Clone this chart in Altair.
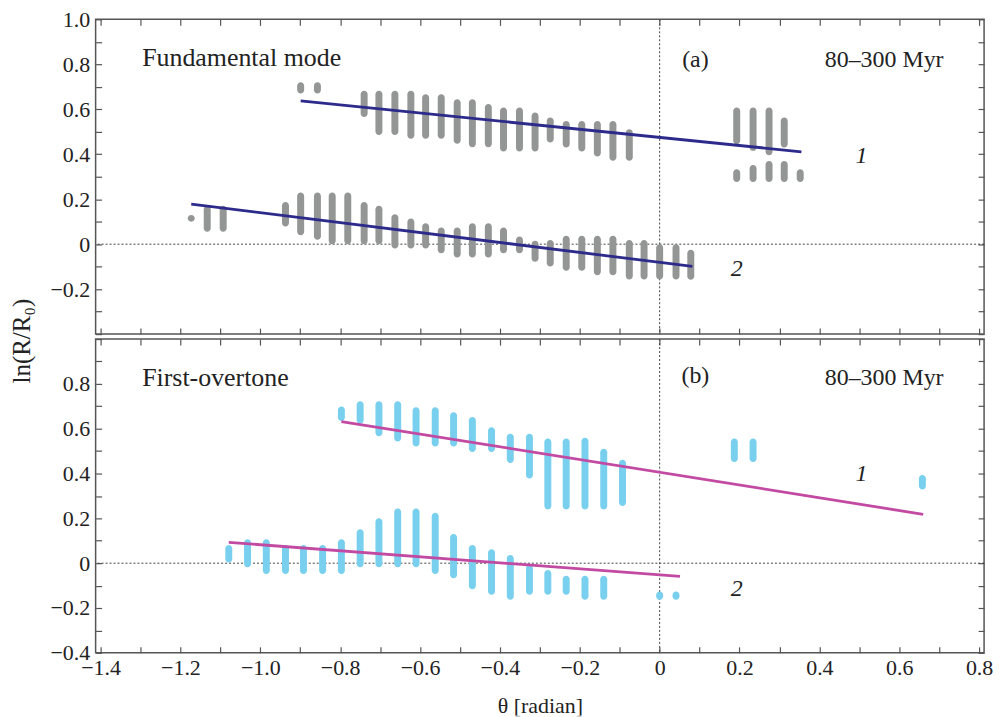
import altair as alt
import pandas as pd

FONT = "Liberation Serif"

# ---------------- tick values ----------------
x_ticks = [-1.4, -1.3, -1.2, -1.1, -1.0, -0.9, -0.8, -0.7, -0.6, -0.5, -0.4, -0.3,
           -0.2, -0.1, 0.0, 0.1, 0.2, 0.3, 0.4, 0.5, 0.6, 0.7, 0.8]
y_ticks = [-0.4, -0.3, -0.2, -0.1, 0.0, 0.1, 0.2, 0.3, 0.4, 0.5, 0.6, 0.7, 0.8, 0.9, 1.0]

# ---------------- panel (a): fundamental mode ----------------
a1_theta = [-0.899, -0.857, -0.740, -0.703, -0.663, -0.623, -0.586, -0.547, -0.507, -0.469,
            -0.429, -0.391, -0.351, -0.312, -0.274, -0.234, -0.195, -0.156, -0.117, -0.076,
            0.193, 0.234, 0.274, 0.312, 0.193, 0.234, 0.274, 0.312, 0.352]
a1_lo = [0.670, 0.670, 0.566, 0.486, 0.486, 0.469, 0.469, 0.469, 0.447, 0.431,
         0.431, 0.412, 0.412, 0.412, 0.452, 0.430, 0.412, 0.390, 0.371, 0.371,
         0.444, 0.415, 0.396, 0.430, 0.277, 0.277, 0.277, 0.277, 0.277]
a1_hi = [0.720, 0.720, 0.682, 0.682, 0.682, 0.682, 0.667, 0.667, 0.645, 0.645,
         0.623, 0.608, 0.608, 0.586, 0.563, 0.548, 0.548, 0.548, 0.548, 0.511,
         0.608, 0.608, 0.608, 0.563, 0.333, 0.352, 0.370, 0.370, 0.333]

a2_theta = [-1.173, -1.133, -1.093, -0.937, -0.899, -0.857, -0.820, -0.781, -0.740, -0.703,
            -0.663, -0.623, -0.586, -0.547, -0.507, -0.469, -0.429, -0.391, -0.351, -0.312,
            -0.274, -0.234, -0.195, -0.156, -0.117, -0.076, -0.039, 0.000, 0.041, 0.078]
a2_lo = [0.100, 0.055, 0.055, 0.079, 0.040, 0.020, 0.000, 0.000, 0.000, 0.000,
         -0.019, -0.019, -0.019, -0.040, -0.059, -0.059, -0.059, -0.040, -0.040, -0.078,
         -0.099, -0.118, -0.118, -0.138, -0.138, -0.157, -0.157, -0.157, -0.157, -0.158]
a2_hi = [0.130, 0.171, 0.171, 0.188, 0.230, 0.230, 0.230, 0.230, 0.188, 0.171,
         0.133, 0.114, 0.093, 0.074, 0.074, 0.093, 0.093, 0.074, 0.034, 0.015,
         0.019, 0.037, 0.037, 0.037, 0.037, 0.019, 0.019, 0.000, 0.000, -0.025]

a_fit_line = ["1", "1", "2", "2"]
a_fit_theta = [-0.899, 0.355, -1.173, 0.082]
a_fit_val = [0.637, 0.411, 0.178, -0.099]

# ---------------- panel (b): first overtone ----------------
b1_theta = [-0.797, -0.750, -0.703, -0.656, -0.610, -0.562, -0.516, -0.469, -0.421, -0.374,
            -0.326, -0.280, -0.234, -0.187, -0.140, -0.093, 0.187, 0.234, 0.658]
b1_lo = [0.634, 0.622, 0.566, 0.543, 0.521, 0.521, 0.521, 0.496, 0.496, 0.447,
         0.378, 0.240, 0.240, 0.240, 0.240, 0.255, 0.452, 0.452, 0.329]
b1_hi = [0.699, 0.723, 0.723, 0.723, 0.696, 0.696, 0.674, 0.652, 0.607, 0.578,
         0.578, 0.556, 0.556, 0.560, 0.511, 0.462, 0.556, 0.556, 0.393]

b2_theta = [-1.079, -1.032, -0.985, -0.937, -0.892, -0.844, -0.797, -0.750, -0.703, -0.656,
            -0.610, -0.562, -0.516, -0.469, -0.421, -0.374, -0.326, -0.280, -0.234, -0.187,
            -0.140, 0.000, 0.041]
b2_lo = [0.003, -0.018, -0.048, -0.048, -0.048, -0.048, -0.048, -0.018, -0.018, -0.018,
         -0.018, -0.048, -0.067, -0.116, -0.141, -0.163, -0.141, -0.141, -0.141, -0.163,
         -0.163, -0.163, -0.163]
b2_hi = [0.081, 0.107, 0.107, 0.081, 0.081, 0.081, 0.107, 0.151, 0.200, 0.244,
         0.244, 0.225, 0.130, 0.081, 0.062, 0.037, -0.007, -0.030, -0.056, -0.056,
         -0.056, -0.126, -0.126]

b_fit_line = ["1", "1", "2", "2"]
b_fit_theta = [-0.797, 0.660, -1.079, 0.051]
b_fit_val = [0.632, 0.218, 0.093, -0.059]

# ---------------- annotations ----------------
a_text = ["Fundamental mode", "(a)", "80–300 Myr"]
b_text = ["First-overtone", "(b)", "80–300 Myr"]
text_theta = [-1.296, 0.0895, 0.711]
text_align = ["left", "center", "right"]
text_size = [26, 24, 24]
a_text_val = [0.830, 0.820, 0.820]
b_text_val = [0.824, 0.837, 0.824]

num_labels = ["1", "2"]
num_theta = [0.5055, 0.193]
a_num_val = [0.390, -0.111]
b_num_val = [0.400, -0.116]

Y_TITLE = "ln(R/R₀)"
X_TITLE = "θ [radian]"

GRAY = "#939695"
SKY = "#78d0ee"
NAVY = "#2c2a8a"
MAGENTA = "#c24aa2"
FRAME = "#555555"
INK = "#222222"

xs = alt.Scale(domain=[-1.4, 0.8], nice=False, zero=False)
ys = alt.Scale(domain=[-0.4, 1.0], nice=False, zero=False)

LABEL_FMT = "(abs(datum.value) < 1e-9 ? '0' : format(datum.value, '.1f'))"
EVEN = "(abs(round(datum.value * 10)) % 2 == 0)"


def y_label_expr(panel):
    if panel == "a":
        cond = EVEN + " && datum.value > -0.35"
    else:
        cond = EVEN + " && datum.value < 0.95"
    return f"({cond}) ? {LABEL_FMT} : ''"


def common_axis(**kw):
    base = dict(tickSize=6, offset=-6, domain=False, grid=False, tickColor=FRAME,
                tickWidth=1.2, labelFont=FONT, labelFontSize=22, labelColor=INK,
                labelFlush=False, labelOverlap=False)
    base.update(kw)
    return alt.Axis(**base)


def make_panel(panel, th1, lo1, hi1, th2, lo2, hi2, fit_line, fit_theta, fit_val,
               texts, text_val, num_val, bar_color, line_color, bottom):
    bars = pd.DataFrame({
        "theta": th1 + th2,
        "lo": lo1 + lo2,
        "hi": hi1 + hi2,
    })
    fits = pd.DataFrame({"line": fit_line, "theta": fit_theta, "val": fit_val})

    x_bottom = common_axis(
        orient="bottom", values=x_ticks, labels=bottom, labelPadding=5,
        labelExpr=f"{EVEN} ? {LABEL_FMT} : ''",
        title=X_TITLE if bottom else None, titleFont=FONT, titleFontSize=22,
        titleFontWeight="normal", titleColor=INK, titlePadding=17)
    y_left = common_axis(orient="left", values=y_ticks, labelPadding=6,
                         labelExpr=y_label_expr(panel), title=None)
    x_top = common_axis(orient="top", values=x_ticks, labels=False, title=None)
    y_right = common_axis(orient="right", values=y_ticks, labels=False, title=None)

    bar_layer = alt.Chart(bars).mark_bar(size=7, cornerRadius=3.5, color=bar_color).encode(
        x=alt.X("theta:Q", scale=xs, axis=x_bottom),
        y=alt.Y("lo:Q", scale=ys, axis=y_left),
        y2="hi:Q",
    )
    line_layer = alt.Chart(fits).mark_line(color=line_color, strokeWidth=2.8).encode(
        x=alt.X("theta:Q", scale=xs, axis=x_top),
        y=alt.Y("val:Q", scale=ys, axis=y_right),
        detail="line:N",
    )
    zero = pd.DataFrame({"z": [0.0]})
    hrule = alt.Chart(zero).mark_rule(color="#444", strokeDash=[2, 2], strokeWidth=1).encode(
        y=alt.Y("z:Q", scale=ys, axis=None))
    vrule = alt.Chart(zero).mark_rule(color="#444", strokeDash=[2, 2], strokeWidth=1).encode(
        x=alt.X("z:Q", scale=xs, axis=None))

    layers = [hrule, vrule, bar_layer, line_layer]
    for t, th, al, sz, v in zip(texts, text_theta, text_align, text_size, text_val):
        df = pd.DataFrame({"t": [t], "theta": [th], "val": [v]})
        layers.append(alt.Chart(df).mark_text(
            font=FONT, fontSize=sz, color=INK, align=al, baseline="middle").encode(
            x=alt.X("theta:Q", scale=xs, axis=None),
            y=alt.Y("val:Q", scale=ys, axis=None),
            text="t:N"))
    nums = pd.DataFrame({"t": num_labels, "theta": num_theta, "val": num_val})
    layers.append(alt.Chart(nums).mark_text(
        font=FONT, fontSize=24, fontStyle="italic", color=INK, align="center",
        baseline="middle").encode(
        x=alt.X("theta:Q", scale=xs, axis=None),
        y=alt.Y("val:Q", scale=ys, axis=None),
        text="t:N"))
    one = pd.DataFrame({"a": [0]})
    if panel == "a":
        ttl = pd.DataFrame({"t": [Y_TITLE]})
        layers.append(alt.Chart(ttl).mark_text(
            font=FONT, fontSize=25, color=INK, angle=270, align="center",
            baseline="middle").encode(
            x=alt.value(-74), y=alt.value(323), text="t:N"))
        # invisible frame edge fixing the page's top-left corner
        layers.append(alt.Chart(one).mark_rule(color="white", strokeWidth=1).encode(
            x=alt.value(-94), x2=alt.value(909), y=alt.value(-16.5)))
    else:
        # invisible frame edge fixing the page's bottom edge
        layers.append(alt.Chart(one).mark_rule(color="white", strokeWidth=1).encode(
            x=alt.value(-94), x2=alt.value(909), y=alt.value(378.5)))

    return alt.layer(*layers).resolve_axis(x="independent", y="independent").properties(
        width=892, height=316 if panel == "a" else 315)


top = make_panel("a", a1_theta, a1_lo, a1_hi, a2_theta, a2_lo, a2_hi,
                 a_fit_line, a_fit_theta, a_fit_val, a_text, a_text_val, a_num_val,
                 GRAY, NAVY, bottom=False)
bottom = make_panel("b", b1_theta, b1_lo, b1_hi, b2_theta, b2_lo, b2_hi,
                    b_fit_line, b_fit_theta, b_fit_val, b_text, b_text_val, b_num_val,
                    SKY, MAGENTA, bottom=True)

chart = alt.vconcat(top, bottom, spacing=5, bounds="flush").properties(
    padding=0,
    background="white",
).configure_view(stroke=FRAME, strokeWidth=1.5)

chart.save("out.html", embed_options={"renderer": "svg", "actions": False})
